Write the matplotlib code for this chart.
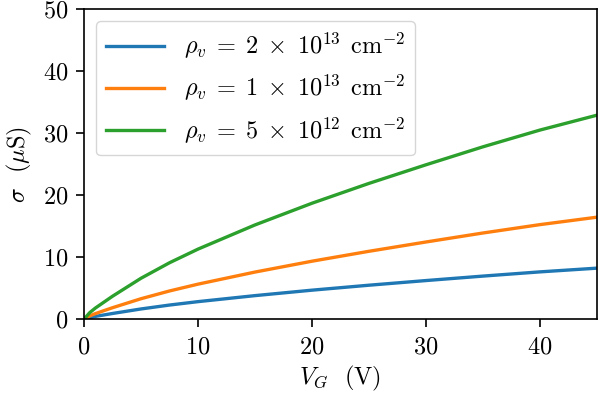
import matplotlib
matplotlib.use('Agg')
import matplotlib.pyplot as plt

plt.rcParams['font.family'] = 'serif'
plt.rcParams['font.serif'] = ['cmr10']
plt.rcParams['mathtext.fontset'] = 'cm'
plt.rcParams['axes.formatter.use_mathtext'] = True

# gate voltage (V) and conductivity (uS)
vg = [0, 0.5, 1, 2.5, 5, 7.5, 10, 15, 20, 25, 30, 35, 40, 45]
sigma_2e13 = [0, 0.27, 0.45, 0.92, 1.65, 2.28, 2.83, 3.8, 4.68, 5.48, 6.23, 6.95, 7.63, 8.23]
sigma_1e13 = [0, 0.53, 0.9, 1.85, 3.3, 4.55, 5.65, 7.6, 9.35, 10.95, 12.45, 13.9, 15.25, 16.45]
sigma_5e12 = [0, 1.05, 1.8, 3.7, 6.6, 9.1, 11.3, 15.2, 18.7, 21.9, 24.9, 27.8, 30.5, 32.9]
labels = [r'$\rho_v \;=\; 2 \;\times\; 10^{13}\;\,\mathrm{cm}^{-2}$',
          r'$\rho_v \;=\; 1 \;\times\; 10^{13}\;\,\mathrm{cm}^{-2}$',
          r'$\rho_v \;=\; 5 \;\times\; 10^{12}\;\,\mathrm{cm}^{-2}$']

FS = 17.5

fig = plt.figure(figsize=(6, 3.97), dpi=100)
ax = fig.add_axes([0.14, 0.196, 0.855, 0.781])

for ys, lab in zip([sigma_2e13, sigma_1e13, sigma_5e12], labels):
    ax.plot(vg, ys, lw=2.4, label=lab)

ax.set_xlim(0, 45)
ax.set_ylim(0, 50)
ax.set_xticks([0, 10, 20, 30, 40])
ax.set_yticks([0, 10, 20, 30, 40, 50])
ax.tick_params(labelsize=FS, width=1.2, length=5.5)
ax.tick_params(axis='x', pad=7)
ax.tick_params(axis='y', pad=6)
for s in ax.spines.values():
    s.set_linewidth(1.2)
ax.set_xlabel(r'$V_G$  (V)', fontsize=FS, labelpad=4)
ax.set_ylabel(r'$\sigma$  ($\mu$S)', fontsize=FS, labelpad=6)
ax.legend(loc='upper left', fontsize=FS, handlelength=2.4, handletextpad=0.8,
          labelspacing=0.5, borderaxespad=0.5)

fig.savefig('out.png', dpi=100)
